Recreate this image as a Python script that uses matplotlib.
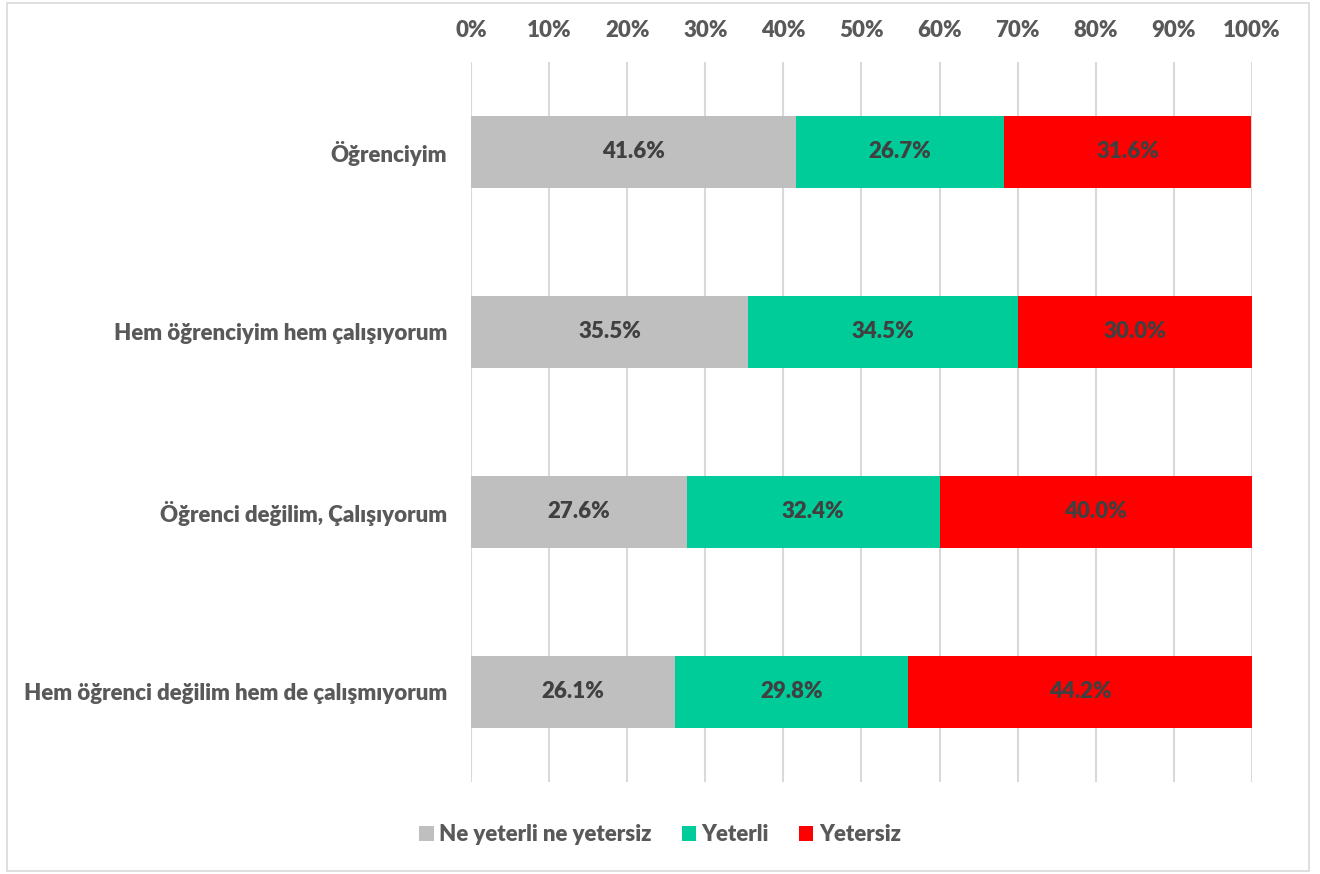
import numpy as np
import matplotlib.pyplot as plt
from matplotlib.patches import Rectangle

plt.rcParams['font.family'] = ['Lato', 'DejaVu Sans']

categories = ['Öğrenciyim', 'Hem öğrenciyim hem çalışıyorum',
              'Öğrenci değilim, Çalışıyorum', 'Hem öğrenci değilim hem de çalışmıyorum']
neither = [41.6, 35.5, 27.6, 26.1]
enough = [26.7, 34.5, 32.4, 29.8]
not_enough = [31.6, 30.0, 40.0, 44.2]
series_names = ['Ne yeterli ne yetersiz', 'Yeterli', 'Yetersiz']
colors = ['#BFBFBF', '#00CC99', '#FF0000']

fig = plt.figure(figsize=(13.2, 8.74), dpi=100)
ax = fig.add_axes([0.3568, 0.1053, 0.5917, 0.8238])

# outer frame like the excel chart area
fig.patches.append(Rectangle((0.005, 0.003), 0.987, 0.994, transform=fig.transFigure,
                             fill=False, edgecolor='#D9D9D9', linewidth=1.2))

y = np.arange(len(categories))
left = np.zeros(len(categories))
for vals, name, c in zip([neither, enough, not_enough], series_names, colors):
    vals = np.array(vals)
    bars = ax.barh(y, vals, left=left, height=0.4, color=c, label=name, zorder=3)
    for b, v in zip(bars, vals):
        ax.text(b.get_x() + b.get_width() / 2, b.get_y() + b.get_height() / 2,
                f'{v:.1f}%', ha='center', va='center', fontsize=16,
                fontweight='heavy', color='#404040', zorder=4)
    left += vals

ax.set_xlim(0, 100)
ax.set_ylim(len(categories) - 0.5, -0.5)
ax.set_xticks(np.arange(0, 101, 10))
ax.set_xticklabels([f'{t}%' for t in range(0, 101, 10)])
ax.xaxis.tick_top()
ax.set_yticks(y)
ax.set_yticklabels(categories)
ax.tick_params(axis='both', length=0, labelsize=16, labelcolor='#595959')
ax.tick_params(axis='x', pad=15)
ax.tick_params(axis='y', pad=17)
for lab in ax.get_xticklabels() + ax.get_yticklabels():
    lab.set_fontweight('heavy')
ax.grid(axis='x', color='#D9D9D9', linewidth=1.5, zorder=0)
for s in ax.spines.values():
    s.set_visible(False)

leg = fig.legend(loc='center', bbox_to_anchor=(0.5, 0.045), ncol=3, frameon=False,
                 handlelength=0.65, handleheight=0.65, handletextpad=0.25, columnspacing=1.35,
                 prop={'size': 16, 'weight': 'heavy'})
for t in leg.get_texts():
    t.set_color('#595959')

fig.savefig('out.png', dpi=100)
